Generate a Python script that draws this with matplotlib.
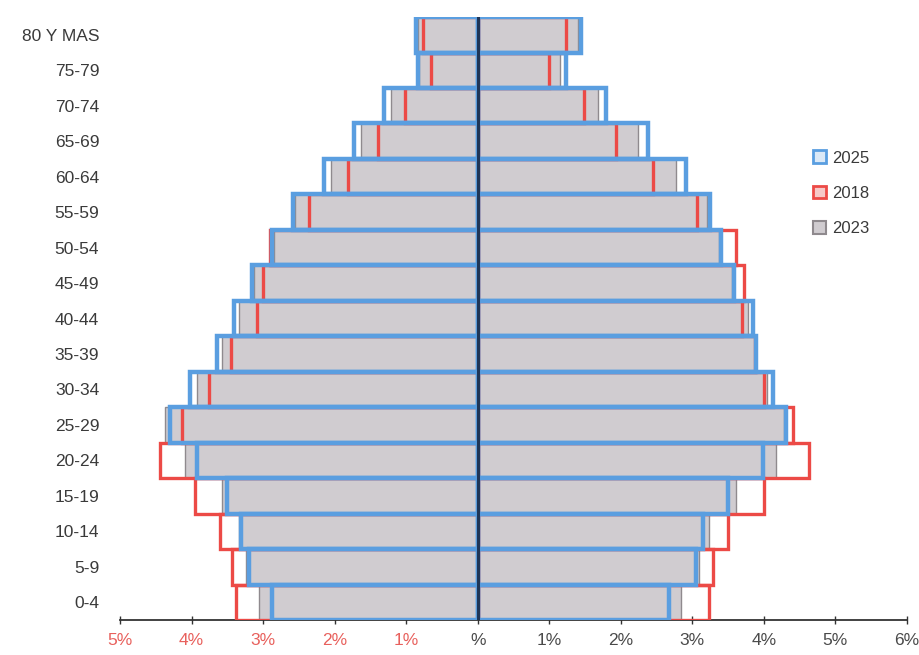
import matplotlib
matplotlib.use("Agg")
import matplotlib.pyplot as plt
from matplotlib.patches import Patch
from matplotlib.ticker import FixedLocator

plt.rcParams['font.family'] = ['Liberation Sans Narrow', 'Liberation Sans', 'DejaVu Sans']

ages = ["0-4", "5-9", "10-14", "15-19", "20-24", "25-29", "30-34", "35-39",
        "40-44", "45-49", "50-54", "55-59", "60-64", "65-69", "70-74", "75-79", "80 Y MAS"]

# left side values in %, right side values in %
left_2025 = [2.87, 3.20, 3.31, 3.50, 3.92, 4.30, 4.02, 3.64, 3.41, 3.15, 2.87, 2.58, 2.15, 1.73, 1.31, 0.83, 0.86]
left_2018 = [3.38, 3.43, 3.60, 3.95, 4.44, 4.13, 3.76, 3.45, 3.08, 3.00, 2.90, 2.36, 1.81, 1.39, 1.02, 0.65, 0.76]
left_2023 = [3.06, 3.24, 3.34, 3.57, 4.09, 4.37, 3.92, 3.58, 3.34, 3.12, 2.85, 2.55, 2.05, 1.63, 1.21, 0.82, 0.84]

right_2025 = [2.67, 3.05, 3.15, 3.50, 3.99, 4.31, 4.13, 3.89, 3.85, 3.58, 3.40, 3.25, 2.91, 2.38, 1.79, 1.24, 1.44]
right_2018 = [3.23, 3.29, 3.50, 4.00, 4.63, 4.41, 4.00, 3.88, 3.70, 3.72, 3.61, 3.06, 2.45, 1.94, 1.48, 0.99, 1.24]
right_2023 = [2.84, 3.09, 3.23, 3.61, 4.17, 4.28, 4.05, 3.87, 3.78, 3.56, 3.38, 3.20, 2.77, 2.24, 1.68, 1.15, 1.40]

xtick_vals = [-5, -4, -3, -2, -1, 0, 1, 2, 3, 4, 5, 6]
xtick_labels = ["5%", "4%", "3%", "2%", "1%", "%", "1%", "2%", "3%", "4%", "5%", "6%"]

BLUE = "#5a9ee0"
RED = "#ec4a46"
GRAY_FILL = "#d0ccd0"
GRAY_EDGE = "#8f8a8e"
NAVY = "#1f3556"

fig = plt.figure(figsize=(9.2, 6.55), dpi=100)
ax = fig.add_axes([0.1304, 0.0534, 0.8554, 0.9206])

y = list(range(len(ages)))

for vals, sign in ((left_2023, -1), (right_2023, 1)):
    ax.barh(y, [sign * v for v in vals], height=1.0, color=GRAY_FILL,
            edgecolor=GRAY_EDGE, linewidth=1.0, zorder=2)
for vals, sign in ((left_2018, -1), (right_2018, 1)):
    ax.barh(y, [sign * v for v in vals], height=1.0, facecolor="none",
            edgecolor=RED, linewidth=2.4, zorder=3)
for vals, sign in ((left_2025, -1), (right_2025, 1)):
    ax.barh(y, [sign * v for v in vals], height=1.0, facecolor="none",
            edgecolor=BLUE, linewidth=3.2, zorder=4)

ax.axvline(0, color=NAVY, lw=2.2, zorder=6)

ax.set_xlim(-5, 6)
ax.set_ylim(-0.5, len(ages) - 0.5)

ax.set_yticks(y)
ax.set_yticklabels(ages, fontsize=12.5, color="#3a3a3a")
ax.tick_params(axis="y", length=0, pad=15)

ax.xaxis.set_major_locator(FixedLocator(xtick_vals))
ax.set_xticklabels(xtick_labels, fontsize=12.5)
ax.tick_params(axis="x", direction="inout", length=6, width=1.0, color="#333333", pad=6)
for lbl, v in zip(ax.get_xticklabels(), xtick_vals):
    lbl.set_color("#e8605c" if v < 0 else "#4a4a4a")

for s in ("top", "right", "left"):
    ax.spines[s].set_visible(False)
ax.spines["bottom"].set_color("#333333")
ax.spines["bottom"].set_linewidth(1.3)

handles = [
    Patch(facecolor="#dbe9f7", edgecolor=BLUE, linewidth=2.0, label="2025"),
    Patch(facecolor="#f6c9c8", edgecolor=RED, linewidth=2.0, label="2018"),
    Patch(facecolor=GRAY_FILL, edgecolor=GRAY_EDGE, linewidth=1.5, label="2023"),
]
fig.legend(handles=handles, loc="center left", bbox_to_anchor=(0.867, 0.705),
           frameon=False, fontsize=12, handlelength=0.8, handleheight=0.8,
           handletextpad=0.35, labelspacing=1.2, labelcolor="#3a3a3a")

fig.savefig("out.png", dpi=100)
